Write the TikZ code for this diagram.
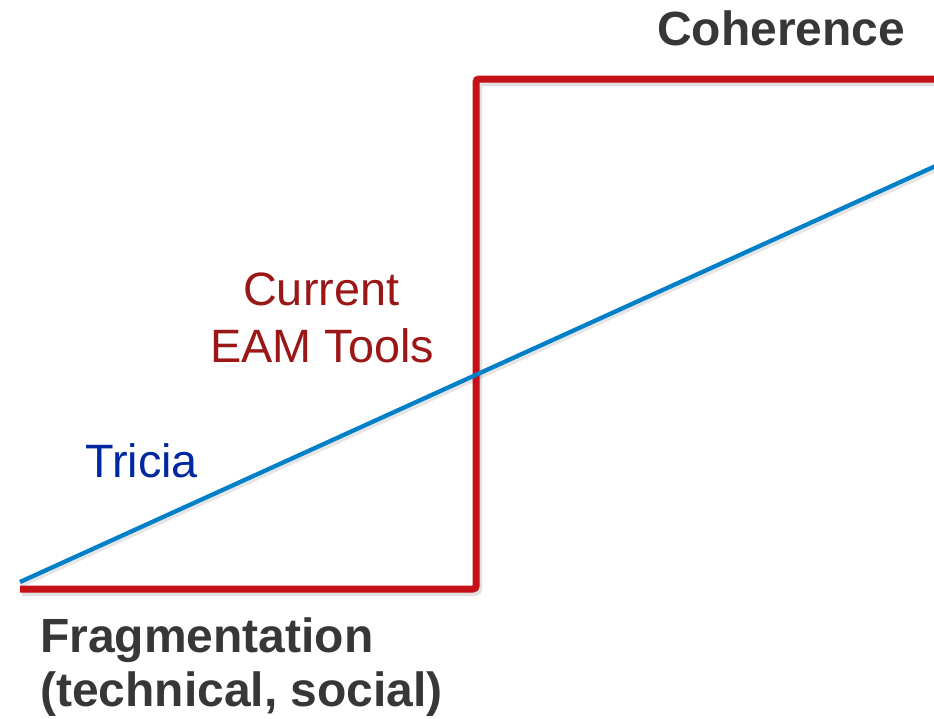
\documentclass[tikz,border=0pt]{standalone}
\usepackage{fontspec}
\setmainfont{Liberation Sans}
\definecolor{redline}{RGB}{196,16,22}
\definecolor{blueline}{RGB}{0,128,200}
\definecolor{darkred}{RGB}{155,22,22}
\definecolor{darkblue}{RGB}{0,40,160}
\definecolor{greytext}{RGB}{55,55,55}
\tikzset{
  lbl/.style={inner sep=0pt, anchor=base west, font=\fontsize{46.8}{55}\selectfont},
  boldlbl/.style={lbl, font=\fontsize{48}{53}\selectfont\bfseries, text=greytext},
  shadowline/.style={draw=black, opacity=0.12, line width=8pt},
}
\begin{document}
\begin{tikzpicture}[x=1pt, y=-1pt]
\useasboundingbox (0,0) rectangle (934,718);
\coordinate (r0) at (20,589);
\coordinate (r1) at (476,589);
\coordinate (r2) at (476,79);
\coordinate (r3) at (940,79);
\coordinate (b0) at (20,582);
\coordinate (b1) at (940,164);
% shadows
\draw[shadowline, rounded corners=3pt] ([shift={(2,3)}]r0) -- ([shift={(2,3)}]r1) -- ([shift={(2,3)}]r2) -- ([shift={(2,3)}]r3);
\draw[draw=black, opacity=0.10, line width=5pt] ([shift={(1,3)}]b0) -- ([shift={(1,3)}]b1);
% lines
\draw[redline, line width=7pt, rounded corners=3pt] (r0) -- (r1) -- (r2) -- (r3);
\draw[blueline, line width=4.3pt] (b0) -- (b1);
% labels
\node[boldlbl] (coh) at (657,45) {Coherence};
\node[lbl, text=darkred] (cur1) at (243,305) {Current};
\node[lbl, text=darkred] (cur2) at (210,362) {EAM Tools};
\node[lbl, text=darkblue] (tri) at (85,477) {Tricia};
\node[boldlbl] (frag1) at (40,652) {Fragmentation};
\node[boldlbl] (frag2) at (40,706) {(technical, social)};
\end{tikzpicture}
\end{document}
